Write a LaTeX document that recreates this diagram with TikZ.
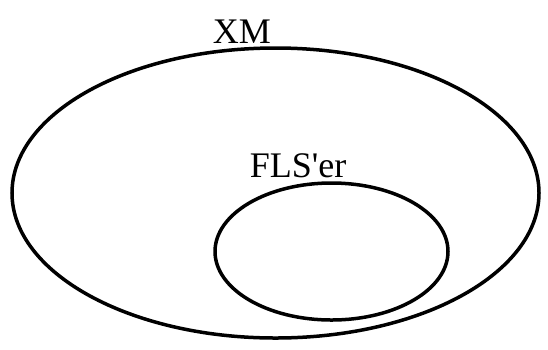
\documentclass[tikz,border=0pt]{standalone}
\usepackage{fontspec}
\setmainfont{Liberation Serif}[Ligatures=TeXOff]
\begin{document}
\begin{tikzpicture}[x=1pt,y=-1pt,
  ring/.style={draw=black,line width=3.5pt},
  lbl/.style={anchor=base,inner sep=0pt,font=\fontsize{36}{40}\selectfont}]
\useasboundingbox (0,0) rectangle (548,349);
\draw[ring] (275.5,193) ellipse [x radius=263.5, y radius=145];
\draw[ring] (331.5,251.5) ellipse [x radius=116.5, y radius=68.5];
\node[lbl] (xm) at (242,43) {XM};
\node[lbl] (fls) at (298,177) {FLS'er};
\end{tikzpicture}
\end{document}
